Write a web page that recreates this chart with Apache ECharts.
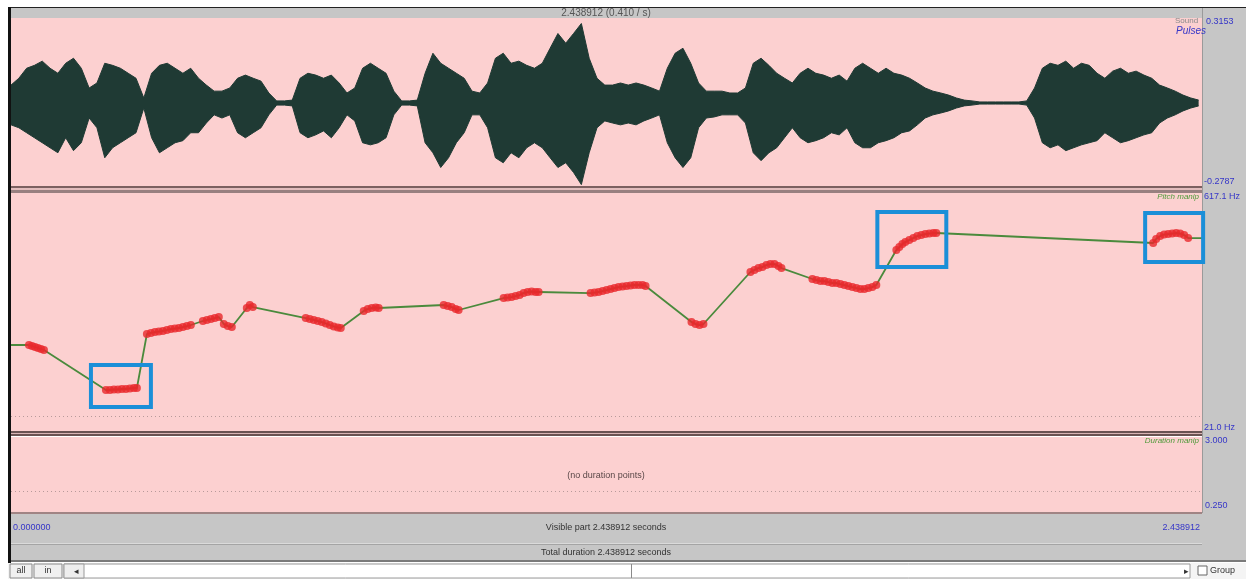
<!DOCTYPE html>
<html>
<head>
<meta charset="utf-8">
<title>Manipulation</title>
<script src="https://cdn.jsdelivr.net/npm/echarts@6/dist/echarts.min.js"></script>
<style>
  html, body { margin: 0; padding: 0; background: #ffffff; }
  #chart { width: 1246px; height: 579px; }
</style>
</head>
<body>
<div id="chart"></div>
<script>
// Sound duration (s) shared by all three tiers
const totalDuration = 2.438912;

// Waveform envelope: peak amplitude above / below zero per 16 ms frame
const waveStep = 0.016;
const waveUpper = [
  0.068,0.094,0.132,0.143,0.159,0.132,0.113,0.151,0.170,0.132,
  0.057,0.076,0.151,0.143,0.132,0.113,0.094,0.019,0.113,0.143,
  0.151,0.132,0.113,0.132,0.094,0.068,0.045,0.045,0.057,0.094,
  0.106,0.094,0.083,0.038,0.008,0.008,0.011,0.094,0.113,0.106,
  0.094,0.106,0.076,0.038,0.057,0.132,0.151,0.132,0.113,0.045,
  0.008,0.008,0.011,0.113,0.189,0.151,0.132,0.113,0.094,0.045,
  0.038,0.076,0.170,0.189,0.151,0.159,0.143,0.132,0.151,0.208,
  0.264,0.227,0.264,0.302,0.170,0.094,0.068,0.068,0.076,0.068,
  0.076,0.068,0.057,0.045,0.132,0.189,0.208,0.151,0.076,0.045,
  0.045,0.045,0.038,0.038,0.057,0.151,0.170,0.143,0.113,0.094,
  0.076,0.113,0.132,0.113,0.106,0.094,0.106,0.083,0.132,0.151,
  0.132,0.113,0.132,0.113,0.106,0.094,0.076,0.057,0.045,0.038,
  0.030,0.019,0.011,0.008,0.004,0.004,0.004,0.004,0.004,0.004,
  0.008,0.057,0.132,0.151,0.143,0.159,0.132,0.151,0.143,0.113,
  0.094,0.121,0.132,0.113,0.121,0.106,0.094,0.068,0.057,0.045,
  0.030,0.019,0.011
];
const waveLower = [
  -0.083,-0.094,-0.113,-0.132,-0.151,-0.170,-0.189,-0.132,-0.181,-0.151,
  -0.057,-0.094,-0.208,-0.170,-0.151,-0.132,-0.113,-0.019,-0.132,-0.189,
  -0.170,-0.151,-0.143,-0.113,-0.113,-0.076,-0.045,-0.057,-0.045,-0.113,
  -0.132,-0.113,-0.094,-0.045,-0.008,-0.008,-0.011,-0.113,-0.132,-0.121,
  -0.106,-0.132,-0.094,-0.045,-0.068,-0.151,-0.159,-0.151,-0.132,-0.045,
  -0.008,-0.008,-0.011,-0.151,-0.189,-0.245,-0.208,-0.151,-0.113,-0.045,
  -0.045,-0.094,-0.208,-0.227,-0.189,-0.208,-0.170,-0.151,-0.170,-0.208,
  -0.245,-0.227,-0.264,-0.310,-0.189,-0.094,-0.068,-0.076,-0.083,-0.076,
  -0.083,-0.068,-0.057,-0.045,-0.151,-0.208,-0.245,-0.208,-0.094,-0.057,
  -0.053,-0.045,-0.045,-0.045,-0.076,-0.189,-0.219,-0.189,-0.170,-0.132,
  -0.094,-0.132,-0.151,-0.143,-0.132,-0.113,-0.121,-0.094,-0.151,-0.170,
  -0.170,-0.151,-0.143,-0.132,-0.113,-0.106,-0.083,-0.057,-0.045,-0.038,
  -0.030,-0.019,-0.011,-0.008,-0.004,-0.004,-0.004,-0.004,-0.004,-0.004,
  -0.008,-0.057,-0.151,-0.170,-0.159,-0.181,-0.170,-0.159,-0.151,-0.143,
  -0.113,-0.132,-0.151,-0.143,-0.132,-0.121,-0.113,-0.076,-0.057,-0.045,
  -0.030,-0.019,-0.011
];

// Pitch tier points: time (s) and frequency (Hz)
const pitchTimes = [
  0.0368,0.0430,0.0491,0.0552,0.0614,0.0675,
  0.1944,0.2026,0.2108,0.2189,0.2271,0.2353,0.2435,0.2517,0.2578,
  0.2783,0.2865,0.2947,0.3028,0.3110,0.3192,0.3274,0.3356,0.3438,0.3520,0.3601,0.3683,
  0.3929,0.4011,0.4093,0.4174,0.4256,
  0.4358,0.4440,0.4522,
  0.4829,0.4890,0.4952,
  0.6036,0.6118,0.6200,0.6282,0.6364,0.6446,0.6528,0.6609,0.6691,0.6753,
  0.7223,0.7305,0.7387,0.7469,0.7530,
  0.8860,0.8942,0.9024,0.9106,0.9167,
  1.0088,1.0170,1.0252,1.0333,1.0415,1.0497,1.0579,1.0661,1.0743,1.0804,
  1.1868,1.1950,1.2032,1.2114,1.2196,1.2278,1.2359,1.2441,1.2523,1.2605,1.2687,1.2769,1.2850,1.2932,1.2994,
  1.3935,1.4017,1.4099,1.4180,
  1.5142,1.5224,1.5306,1.5388,1.5470,1.5551,1.5633,1.5715,1.5777,
  1.6411,1.6493,1.6575,1.6656,1.6738,1.6820,1.6902,1.6984,1.7066,1.7147,1.7229,1.7311,1.7393,1.7475,1.7557,1.7639,1.7720,
  1.8130,1.8191,1.8253,1.8314,1.8396,1.8478,1.8559,1.8641,1.8723,1.8805,1.8887,1.8948,
  2.3389,2.3450,2.3532,2.3614,2.3696,2.3778,2.3860,2.3941,2.4023,2.4105
];
const pitchHz = [
  234.2,231.7,229.1,226.5,224.0,221.4,
  118.6,118.6,119.9,119.9,121.2,121.2,122.5,123.8,123.8,
  262.5,265.1,267.6,268.9,270.2,272.8,275.3,276.6,277.9,280.5,283.0,285.6,
  295.9,298.5,301.0,303.6,306.2,
  288.2,283.0,280.5,
  329.3,337.0,331.8,
  303.6,301.0,298.5,295.9,293.3,289.5,285.6,281.8,279.2,277.9,
  321.6,326.7,329.3,330.6,329.3,
  337.0,334.4,331.8,326.7,324.2,
  355.0,356.2,357.5,360.1,362.7,367.8,370.4,371.7,370.4,370.4,
  367.8,369.1,370.4,373.0,375.5,378.1,380.7,383.2,384.5,385.8,387.1,388.4,388.4,388.4,385.8,
  293.3,288.2,285.6,288.2,
  421.8,426.9,432.0,434.6,439.7,442.3,442.3,437.2,432.0,
  403.8,401.2,398.6,398.6,396.1,393.5,393.5,390.9,388.4,385.8,383.2,380.7,378.1,378.1,380.7,383.2,388.4,
  478.3,486.0,493.7,498.8,504.0,509.1,514.2,516.8,519.4,520.7,522.0,522.0,
  496.3,506.5,514.2,518.1,519.4,520.7,522.0,520.7,516.8,509.1
];

// Highlighted stretches of the pitch contour: [start s, end s, low Hz, high Hz]
const highlightStart = [0.1637, 1.7741, 2.3225];
const highlightEnd   = [0.2865, 1.9153, 2.4412];
const highlightLow   = [75.0, 434.6, 447.5];
const highlightHigh  = [182.9, 575.9, 573.4];

// Axis ranges and their corner labels
const ampMin = -0.3153, ampMax = 0.3153;
const pitchMin = 21.0, pitchMax = 617.1, pitchFloor = 50;
const durMin = 0.25, durMax = 3.0, durUnit = 1.0;
const ampLabels = ['0.3153', '-0.2787'];
const pitchLabels = ['617.1 Hz', '21.0 Hz'];
const durLabels = ['3.000', '0.250'];

const waveColor = '#1f3a34';
const pink = '#fcd0d0';
const grey = '#c6c6c6';
const blue = '#3636c8';
const green = '#4f9a3a';
const font = 'Liberation Sans, Arial, sans-serif';

const chart = echarts.init(document.getElementById('chart'), null, { renderer: 'canvas' });

const upperData = waveUpper.map((v, i) => [i * waveStep, v]);
const lowerData = waveLower.map((v, i) => [i * waveStep, v]);
const pitchPoints = pitchTimes.map((t, i) => [t, pitchHz[i]]);
// Contour is held flat before the first and after the last point
const pitchLine = [[0, pitchHz[0]]].concat(pitchPoints, [[totalDuration, pitchHz[pitchHz.length - 1]]]);
const boxData = highlightStart.map((s, i) => [s, highlightEnd[i], highlightLow[i], highlightHigh[i]]);

function rect(x, y, w, h, fill, z, stroke) {
  return { type: 'rect', shape: { x, y, width: w, height: h }, style: { fill, stroke: stroke || null, lineWidth: stroke ? 1 : 0 }, z: z || 0, silent: true };
}
function text(x, y, str, color, size, align, italic) {
  return {
    type: 'text', x, y, z: 20, silent: true,
    style: { text: str, fill: color, font: (italic ? 'italic ' : '') + (size || 9) + 'px ' + font, textAlign: align || 'left', textVerticalAlign: 'middle' }
  };
}

const graphics = [
  // frame and panel backgrounds
  rect(11, 8, 1235, 10, grey, 0),
  rect(8, 7, 1238, 1, '#222222', 1),
  rect(8, 7, 3, 506, '#111111', 1),
  rect(11, 18, 1191, 168, pink, 0),
  rect(11, 193, 1191, 238, pink, 0),
  rect(11, 437, 1191, 75, pink, 0),
  rect(1202, 18, 44, 494, grey, 0),
  rect(1202, 8, 1, 505, '#9a9a9a', 1),
  // tier separators
  rect(11, 186, 1191, 2, '#7c6060', 1),
  rect(11, 188, 1191, 2, '#e2bcbc', 1),
  rect(11, 190, 1191, 3, '#988080', 1),
  rect(11, 431, 1191, 2, '#6a5252', 1),
  rect(11, 433, 1191, 1, '#d8b4b4', 1),
  rect(11, 434, 1191, 2, '#6a5252', 1),
  // bottom information bars
  rect(11, 512, 1235, 50, grey, 0),
  rect(11, 512, 1191, 2, '#a08484', 1),
  rect(11, 543, 1191, 1, '#dadada', 1),
  rect(11, 544, 1191, 1, '#a4a4a4', 1),
  rect(11, 560, 1235, 2, '#7a7a7a', 1),
  rect(8, 512, 3, 51, '#111111', 1),
  // button row
  rect(8, 563, 1238, 16, '#f4f4f4', 0),
  rect(10, 564, 22, 14, '#f0f0f0', 1, '#8a8a8a'),
  rect(34, 564, 28, 14, '#f0f0f0', 1, '#8a8a8a'),
  rect(64, 564, 1126, 14, '#ffffff', 1, '#9a9a9a'),
  rect(64, 564, 20, 14, '#eeeeee', 1, '#9a9a9a'),
  rect(631, 564, 1, 14, '#8a8a8a', 2),
  rect(1198, 566, 9, 9, '#ffffff', 1, '#666666'),
  text(21, 571, 'all', '#333333', 9, 'center'),
  text(48, 571, 'in', '#333333', 9, 'center'),
  text(76, 572, '\u25C2', '#333333', 9, 'center'),
  text(1186, 572, '\u25B8', '#333333', 9, 'center'),
  text(1210, 571, 'Group', '#333333', 9, 'left'),
  // titles and labels
  text(606, 13, '2.438912 (0.410 / s)', '#555555', 10, 'center'),
  text(1175, 21, 'Sound', '#8a8a8a', 8, 'left'),
  text(1176, 31, 'Pulses', blue, 10, 'left', true),
  text(1206, 22, ampLabels[0], blue, 9),
  text(1204, 182, ampLabels[1], blue, 9),
  text(1199, 197, 'Pitch manip', green, 8, 'right', true),
  text(1204, 197, pitchLabels[0], blue, 9),
  text(1204, 428, pitchLabels[1], blue, 9),
  text(1199, 441, 'Duration manip', green, 8, 'right', true),
  text(1205, 441, durLabels[0], blue, 9),
  text(1205, 506, durLabels[1], blue, 9),
  text(606, 476, '(no duration points)', '#5a4848', 9, 'center'),
  text(13, 528, '0.000000', blue, 9),
  text(606, 528, 'Visible part 2.438912 seconds', '#333333', 9, 'center'),
  text(1200, 528, '2.438912', blue, 9, 'right'),
  text(606, 553, 'Total duration 2.438912 seconds', '#333333', 9, 'center')
];

const xCommon = { type: 'value', min: 0, max: totalDuration, show: false };
const option = {
  animation: false,
  backgroundColor: '#ffffff',
  graphic: { elements: graphics },
  grid: [
    { left: 11, width: 1191, top: 20, height: 166 },
    { left: 11, width: 1191, top: 196, height: 232 },
    { left: 11, width: 1191, top: 437, height: 75 }
  ],
  xAxis: [
    Object.assign({ gridIndex: 0 }, xCommon),
    Object.assign({ gridIndex: 1 }, xCommon),
    Object.assign({ gridIndex: 2 }, xCommon)
  ],
  yAxis: [
    { gridIndex: 0, type: 'value', min: ampMin, max: ampMax, show: false },
    { gridIndex: 1, type: 'value', min: pitchMin, max: pitchMax, show: false },
    { gridIndex: 2, type: 'value', min: durMin, max: durMax, show: false }
  ],
  series: [
    {
      type: 'line', xAxisIndex: 0, yAxisIndex: 0, data: upperData, symbol: 'none', z: 5,
      lineStyle: { color: waveColor, width: 1 }, areaStyle: { color: waveColor, opacity: 1 }, silent: true
    },
    {
      type: 'line', xAxisIndex: 0, yAxisIndex: 0, data: lowerData, symbol: 'none', z: 5,
      lineStyle: { color: waveColor, width: 1 }, areaStyle: { color: waveColor, opacity: 1 }, silent: true
    },
    {
      type: 'line', xAxisIndex: 1, yAxisIndex: 1, data: pitchLine, symbol: 'none', z: 5,
      lineStyle: { color: '#4a8a3c', width: 1.8 }, silent: true,
      markLine: {
        silent: true, symbol: 'none', label: { show: false },
        lineStyle: { type: [1, 3], color: '#b89a9a', width: 1 },
        data: [{ yAxis: pitchFloor }]
      }
    },
    {
      type: 'scatter', xAxisIndex: 1, yAxisIndex: 1, data: pitchPoints, symbol: 'circle', symbolSize: 8, z: 6,
      itemStyle: { color: '#e8282c' }, silent: true
    },
    {
      type: 'custom', xAxisIndex: 1, yAxisIndex: 1, data: boxData, z: 7, clip: false, silent: true,
      renderItem: function (params, api) {
        const p0 = api.coord([api.value(0), api.value(3)]);
        const p1 = api.coord([api.value(1), api.value(2)]);
        return {
          type: 'rect',
          shape: { x: p0[0], y: p0[1], width: p1[0] - p0[0], height: p1[1] - p0[1] },
          style: { fill: 'none', stroke: '#1b8fd8', lineWidth: 4 }
        };
      }
    },
    {
      type: 'line', xAxisIndex: 2, yAxisIndex: 2, data: [], silent: true,
      markLine: {
        silent: true, symbol: 'none', label: { show: false },
        lineStyle: { type: [1, 3], color: '#b89a9a', width: 1 },
        data: [{ yAxis: durUnit }]
      }
    }
  ]
};
chart.setOption(option);
</script>
</body>
</html>
